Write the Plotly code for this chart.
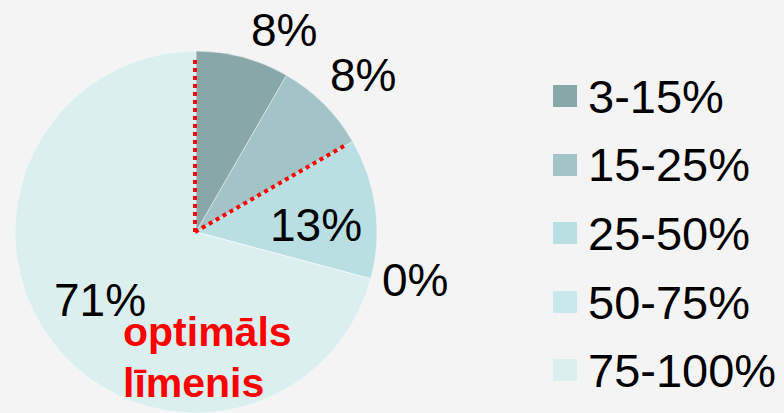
import math
import plotly.graph_objects as go

categories = ["3-15%", "15-25%", "25-50%", "50-75%", "75-100%"]
counts = [2, 2, 3, 0, 17]
colors = ["#88a7a9", "#a2c4c7", "#b9dfe3", "#c8e8eb", "#dcefef"]
note_lines = ["optimāls", "līmenis"]

W, H = 784, 413
total = sum(counts)
pcts = [int(v * 100.0 / total + 0.5) for v in counts]

# pie domain in pixels
dom_left, dom_right, dom_top, dom_bottom = 15, 377, 51, 413
dx = [dom_left / W, dom_right / W]
dy = [1 - dom_bottom / H, 1 - dom_top / H]

def px(x):
    return x / W

def py(y):
    return 1 - y / H

fig = go.Figure()
fig.add_trace(go.Pie(
    labels=categories, values=counts, sort=False, direction="clockwise",
    rotation=0, domain=dict(x=dx, y=dy), textinfo="none", hoverinfo="label+percent",
    marker=dict(colors=colors, line=dict(color="rgba(255,255,255,0.4)", width=1)),
    showlegend=False,
))

# red dotted boundaries of the optimal level (computed from data)
cx = (dom_left + dom_right) / 2
cy = (dom_top + dom_bottom) / 2
R = min(dom_right - dom_left, dom_bottom - dom_top) / 2
shapes = []
for frac in [0.0, (counts[0] + counts[1]) / total]:
    a = 2 * math.pi * frac
    ex = cx + R * 0.97 * math.sin(a)
    ey = cy - R * 0.97 * math.cos(a)
    shapes.append(dict(type="line", xref="paper", yref="paper", layer="above",
                       x0=px(cx - 1), y0=py(cy), x1=px(ex - 1), y1=py(ey),
                       line=dict(color="#ff0000", width=4, dash="dot")))

# legend (manual, larger swatches)
leg_y = [96, 165, 233, 302, 370]
annotations = []
for cat, col, yy in zip(categories, colors, leg_y):
    shapes.append(dict(type="rect", xref="paper", yref="paper", layer="above",
                       x0=px(553), x1=px(577), y0=py(yy + 11), y1=py(yy - 11),
                       fillcolor=col, line=dict(width=0)))
    annotations.append(dict(text=cat, xref="paper", yref="paper", x=px(586), y=py(yy),
                            xanchor="left", yanchor="middle", showarrow=False,
                            font=dict(size=47, color="#000000")))

label_pos = [(284, 30), (363, 75), (316, 225), (415, 280), (100, 300)]
for p, (lx, ly) in zip(pcts, label_pos):
    annotations.append(dict(text=f"{p}%", xref="paper", yref="paper", x=px(lx), y=py(ly),
                            xanchor="center", yanchor="middle", showarrow=False,
                            font=dict(size=46, color="#000000")))

for txt, ly in zip(note_lines, [332, 383]):
    annotations.append(dict(text=f"<b>{txt}</b>", xref="paper", yref="paper", x=px(121), y=py(ly),
                            xanchor="left", yanchor="middle", showarrow=False,
                            font=dict(size=41, color="#ff0000")))

fig.update_layout(
    width=W, height=H, margin=dict(l=0, r=0, t=0, b=0),
    paper_bgcolor="#f4f4f4", plot_bgcolor="#f4f4f4",
    font=dict(family="Arial, Liberation Sans, sans-serif"),
    shapes=shapes, annotations=annotations, showlegend=False,
)
fig.write_html(
    "out.html",
    config={"displayModeBar": False},
    post_script="document.body.style.margin='0';document.body.style.padding='0';"
                "document.body.style.background='#f4f4f4';document.body.style.overflow='hidden';",
)
